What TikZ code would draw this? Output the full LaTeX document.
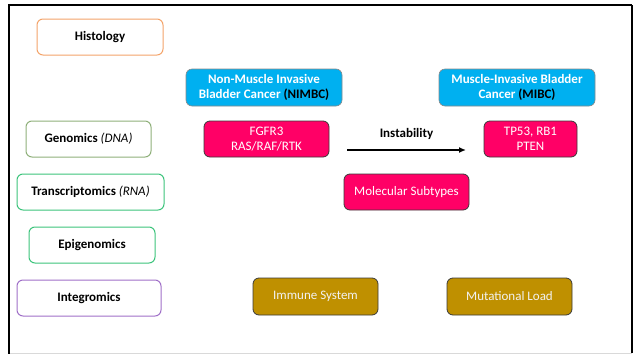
\documentclass[tikz,border=0pt]{standalone}
\usepackage{fontspec}
\setmainfont{Carlito}
\usetikzlibrary{arrows.meta}
\definecolor{orangeb}{HTML}{F4A46A}
\definecolor{olivegreen}{HTML}{8FB07A}
\definecolor{brightgreen}{HTML}{3CC47C}
\definecolor{purpleb}{HTML}{A070C8}
\definecolor{pinkf}{HTML}{FF0066}
\definecolor{bluef}{HTML}{00B0F0}
\definecolor{goldf}{HTML}{BF9000}
\definecolor{darkb}{HTML}{3A3A3A}
\begin{document}
\begin{tikzpicture}[x=1pt,y=-1pt,
  omics/.style={draw=#1,line width=1pt,rounded corners=6pt,fill=white,font=\fontsize{13}{15}\selectfont\bfseries,align=center,inner sep=0pt},
  bluebox/.style={draw=darkb!60,line width=0.6pt,rounded corners=6pt,fill=bluef,text=white,font=\fontsize{13}{15}\selectfont\bfseries,align=center,inner sep=0pt},
  pinkbox/.style={draw=darkb,line width=0.8pt,rounded corners=6pt,fill=pinkf,text=white,font=\fontsize{13}{15}\selectfont,align=center,inner sep=0pt},
  goldbox/.style={draw=darkb,line width=0.8pt,rounded corners=6pt,fill=goldf,text=white!95!black,font=\fontsize{13}{15}\selectfont,align=center,inner sep=0pt}
]
\useasboundingbox (0,0) rectangle (635,354);
\fill[white] (0,0) rectangle (635,354);
% frame
\draw[black!15,line width=1pt] (9,353) -- (632,353);
\draw[black,line width=1.4pt] (632,5) -- (632,353);
\draw[black,line width=2pt] (9,5) -- (632,5);
\draw[black,line width=2pt] (9,4) -- (9,354);
% omics boxes
\node[omics=orangeb,minimum width=126pt,minimum height=36pt] (hist) at (100,37) {Histology};
\node[omics=olivegreen,minimum width=125pt,minimum height=36pt] (gen) at (88.5,139) {Genomics \textit{\mdseries(DNA)}};
\node[omics=brightgreen,minimum width=147pt,minimum height=36pt] (trans) at (90.5,192) {Transcriptomics \textit{\mdseries(RNA)}};
\node[omics=brightgreen,minimum width=126pt,minimum height=36pt] (epi) at (92,245) {Epigenomics};
\node[omics=purpleb,minimum width=144pt,minimum height=36pt] (integ) at (89,298) {Integromics};
% cancer boxes
\node[bluebox,minimum width=156pt,minimum height=37pt] (nimbc) at (264,87.5) {Non-Muscle Invasive\\Bladder Cancer \textcolor{black}{(NIMBC)}};
\node[bluebox,minimum width=156pt,minimum height=37pt] (mibc) at (517,87.5) {Muscle-Invasive Bladder\\Cancer \textcolor{black}{(MIBC)}};
% gene boxes
\node[pinkbox,minimum width=125pt,minimum height=36pt] (fgfr) at (266.5,139) {FGFR3\\RAS/RAF/RTK};
\node[pinkbox,minimum width=93pt,minimum height=36pt] (tp53) at (530.5,139) {TP53, RB1\\PTEN};
\node[pinkbox,minimum width=125pt,minimum height=36pt] (mol) at (406.5,192) {Molecular Subtypes};
\node[goldbox,minimum width=125pt,minimum height=37pt] (imm) at (315.5,296.5) {Immune System};
\node[goldbox,minimum width=125pt,minimum height=37pt] (mut) at (509.5,296.5) {Mutational Load};
% arrow
\coordinate (a1) at (347,150);
\coordinate (a2) at (466,150);
\draw[line width=1.6pt,-{Latex[length=7pt,width=6pt]}] (a1) -- (a2) node[midway,above=6pt,font=\fontsize{13}{15}\selectfont\bfseries] (inst) {Instability};
\end{tikzpicture}
\end{document}
